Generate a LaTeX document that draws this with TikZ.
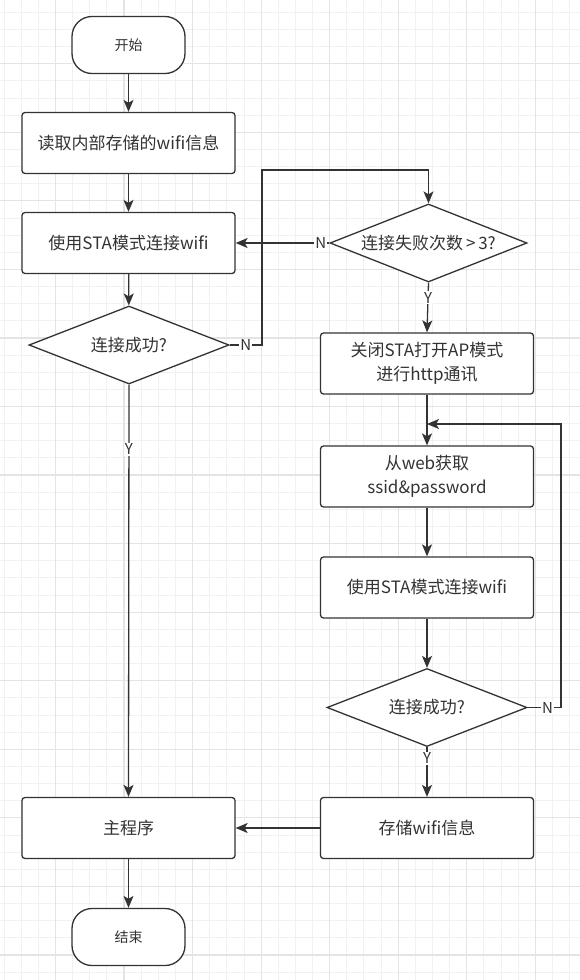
\documentclass[tikz,border=0pt]{standalone}
\usepackage{fontspec}
\setmainfont{Noto Sans CJK SC}
\usetikzlibrary{arrows.meta,calc,shapes.geometric}
\definecolor{LineClr}{HTML}{333333}
\definecolor{GridClr}{HTML}{F1F1F1}
\definecolor{GridMajorClr}{HTML}{E4E4E4}

\begin{document}
\begin{tikzpicture}[x=1pt,y=-1pt,
  box/.style={draw=LineClr,line width=1.3pt,rounded corners=3pt,fill=white,text=LineClr,
    minimum width=213pt,minimum height=61pt,align=center,font=\fontsize{17}{24}\selectfont},
  term/.style={box,rounded corners=20pt,minimum width=113pt,minimum height=57pt,
    font=\fontsize{14}{16}\selectfont},
  cond/.style={diamond,draw=LineClr,line width=1.3pt,fill=white,text=LineClr,inner sep=0pt,
    minimum width=200pt,minimum height=78pt,shape aspect=2.6,font=\fontsize{17}{20}\selectfont},
  arr/.style={draw=LineClr,line width=1.3pt,-{Stealth[length=12pt,width=10pt,inset=3pt]}},
  lbl/.style={fill=white,text=LineClr,inner sep=1pt,font=\fontsize{15}{17}\selectfont}]

\useasboundingbox[fill=white] (0,0) rectangle (580,980);
\foreach \i in {0,...,33} \draw[GridClr,line width=.9pt] ({4+17.14*\i},0) -- ++(0,980);
\foreach \j in {0,...,56} \draw[GridClr,line width=.9pt] (0,{12.3+17.14*\j}) -- ++(580,0);
\foreach \i in {3,7,...,31} \draw[GridMajorClr,line width=1.2pt] ({4+17.14*\i},0) -- ++(0,980);
\foreach \j in {3,7,...,55} \draw[GridMajorClr,line width=1.2pt] (0,{12.3+17.14*\j}) -- ++(580,0);

\node[term] (start) at (128.5,45) {开始};
\node[box] (read) at (128.5,143) {读取内部存储的wifi信息};
\node[box] (sta) at (128.5,243) {使用STA模式连接wifi};
\node[cond] (ok1) at (129,345) {连接成功?};
\node[cond,minimum width=197pt] (fail) at (428.5,243) {连接失败次数\,>\,3?};
\node[box] (ap) at (427,363.5) {关闭STA打开AP模式\\进行http通讯};
\node[box] (web) at (427,476.5) {从web获取\\ssid\&password};
\node[box] (sta2) at (427,587.5) {使用STA模式连接wifi};
\node[cond] (ok2) at (427,707.5) {连接成功?};
\node[box] (save) at (427,828) {存储wifi信息};
\node[box] (main) at (128.5,828) {主程序};
\node[term] (stop) at (128.5,937) {结束};

\coordinate (up) at (262,170);
\coordinate (back) at (561,424);
\coordinate (join) at (427,424);

\draw[arr] (start) -- (read);
\draw[arr] (read) -- (sta);
\draw[arr] (sta) -- (ok1);
\draw[arr] (ok1.east) -- node[lbl]{N} (ok1.east -| up) -- (up) -| (fail.north);
\draw[arr] (fail.west) -- node[lbl,pos=.09]{N} (sta.east);
\draw[arr] (fail.south) -- node[lbl,pos=.3]{Y} (ap.north);
\draw[arr] (ap) -- (web);
\draw[arr] (web) -- (sta2);
\draw[arr] (sta2) -- (ok2);
\draw[arr] (ok2.east) -- node[lbl,pos=.6]{N} (ok2.east -| back) -- (back) -- (join);
\draw[arr] (ok2.south) -- node[lbl,pos=.22]{Y} (save.north);
\draw[arr] (ok1.south) -- node[lbl,pos=.157]{Y} (main.north);
\draw[arr] (save) -- (main);
\draw[arr] (main) -- (stop);

\end{tikzpicture}
\end{document}
